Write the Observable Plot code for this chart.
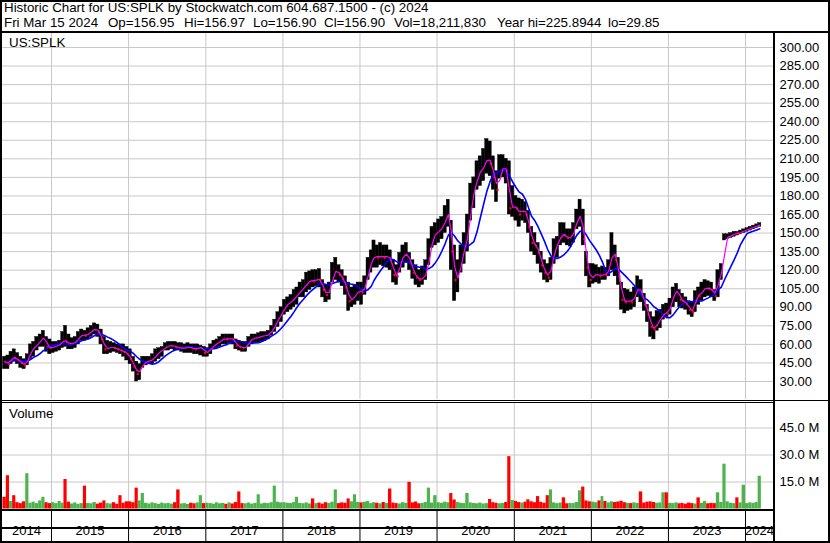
<!DOCTYPE html>
<html><head><meta charset="utf-8">
<script src="https://cdn.jsdelivr.net/npm/d3@7"></script>
<script src="https://cdn.jsdelivr.net/npm/@observablehq/plot@0.6"></script>
<style>
body{margin:0;background:#fff;}
#wrap{position:relative;width:830px;height:543px;overflow:hidden;font-family:"Liberation Sans",Arial,sans-serif;color:#000;background:#fff;}
.ln{position:absolute;background:#000;z-index:5;}
.txt{position:absolute;white-space:pre;font-size:13.33px;line-height:15px;z-index:6;}
.panel{position:absolute;left:0;}
#border{position:absolute;left:0;top:0;width:830px;height:543px;box-sizing:border-box;border:2px solid #000;z-index:7;}
</style></head><body>
<div id="wrap">
  <div class="txt" style="left:4px;top:0px">Historic Chart for US:SPLK by Stockwatch.com 604.687.1500 - (c) 2024</div>
  <div class="txt" style="left:4px;top:15px">Fri Mar 15 2024</div>
  <div class="txt" style="left:108px;top:15px">Op=156.95</div>
  <div class="txt" style="left:184px;top:15px">Hi=156.97</div>
  <div class="txt" style="left:253px;top:15px">Lo=156.90</div>
  <div class="txt" style="left:324px;top:15px">Cl=156.90</div>
  <div class="txt" style="left:394px;top:15px">Vol=18,211,830</div>
  <div class="txt" style="left:497px;top:15px">Year hi=225.8944</div>
  <div class="txt" style="left:608px;top:15px">lo=29.85</div>
  <div class="txt" style="left:9px;top:34.5px">US:SPLK</div>
  <div class="txt" style="left:9px;top:406px">Volume</div>
  <div id="price" class="panel" style="top:33px"></div>
  <div id="volume" class="panel" style="top:403px"></div>
  <div id="strip" class="panel" style="top:511px"></div>
  <div class="ln" style="left:0;top:31px;width:830px;height:2px"></div>
  <div class="ln" style="left:773px;top:33px;width:2px;height:510px"></div>
  <div class="ln" style="left:0;top:400px;width:830px;height:1px"></div>
  <div class="ln" style="left:0;top:402px;width:773px;height:1px"></div>
  <div class="ln" style="left:0;top:509px;width:773px;height:2px"></div>
  <div class="ln" style="left:0;top:527px;width:773px;height:2px"></div>
  <div id="border"></div>
</div>
<script>
// Half-month samples starting May 16, 2014 (slot 9 = 2nd half of May 2014), ending Mar 2024
const firstSlot = 9;
const low = [
  // 2014
  40, 40, 44, 46, 44, 41, 40, 43, 48, 50, 55, 58, 58, 54, 52,
  // 2015
  53, 54, 55, 57, 58, 56, 56, 57, 60, 63, 63, 64, 66, 68, 66, 60, 52, 52, 53, 54, 53, 52, 50, 47,
  // 2016
  44, 38, 30, 31, 41, 43, 44, 44, 46, 48, 50, 55, 55, 56, 55, 55, 54, 53, 53, 53, 52, 52, 51, 50,
  // 2017
  50, 52, 56, 57, 58, 60, 60, 61, 60, 56, 55, 54, 54, 58, 60, 61, 61, 62, 63, 64, 67, 70, 74, 78,
  // 2018
  84, 86, 88, 90, 92, 98, 98, 102, 104, 106, 107, 106, 98, 94, 96, 110, 112, 110, 107, 100, 87, 90, 92, 95,
  // 2019
  92, 100, 112, 118, 122, 122, 124, 123, 122, 120, 110, 108, 118, 122, 126, 120, 113, 108, 106, 108, 112, 124, 138, 140,
  // 2020
  142, 145, 150, 155, 120, 95, 102, 118, 125, 135, 160, 170, 185, 188, 192, 198, 196, 185, 175, 194, 195, 190, 165, 163,
  // 2021
  160, 155, 160, 158, 150, 135, 132, 125, 118, 112, 110, 112, 125, 130, 140, 142, 140, 139, 142, 153, 155, 140, 115, 106,
  // 2022
  109, 110, 109, 112, 112, 115, 120, 115, 108, 88, 85, 87, 88, 90, 98, 94, 87, 78, 66, 64, 71, 73, 80, 82,
  // 2023
  84, 90, 94, 90, 89, 88, 84, 82, 86, 92, 95, 98, 99, 98, 95, 98, 112, 144, 145, 146, 147, 148, 149, 150,
  // 2024
  151, 152, 153, 154, 155
];
const high = [
  50, 51, 54, 56, 53, 50, 48, 52, 60, 62, 66, 68, 71, 66, 64,
  62, 62, 63, 70, 75, 68, 65, 66, 70, 72, 71, 73, 75, 77, 76, 72, 66, 63, 62, 61, 60, 60, 60, 58,
  56, 50, 46, 44, 50, 50, 50, 52, 56, 57, 58, 61, 62, 62, 62, 61, 61, 60, 61, 60, 60, 60, 59, 58,
  57, 60, 63, 64, 66, 68, 68, 68, 68, 64, 63, 62, 62, 66, 68, 68, 69, 70, 70, 71, 75, 80, 86, 90,
  96, 98, 100, 104, 106, 110, 112, 118, 119, 120, 120, 121, 112, 108, 110, 126, 130, 124, 120, 115, 110, 106, 108, 110,
  110, 115, 130, 136, 144, 140, 142, 140, 140, 136, 128, 124, 134, 140, 142, 134, 128, 124, 120, 123, 128, 145, 155, 158,
  161, 163, 172, 177, 160, 140, 128, 140, 150, 165, 190, 195, 208, 212, 218, 226, 224, 212, 200, 213, 213, 210, 208, 188,
  180, 178, 177, 175, 168, 155, 150, 142, 135, 128, 125, 130, 145, 147, 158, 158, 153, 153, 158, 169, 177, 169, 135, 125,
  125, 124, 122, 123, 122, 128, 150, 140, 130, 110, 105, 104, 102, 106, 115, 112, 101, 92, 86, 82, 87, 88, 92, 93,
  97, 106, 109, 104, 101, 98, 95, 94, 103, 106, 110, 112, 111, 110, 104, 120, 125, 149, 149, 150, 151, 151, 152, 153,
  154, 155, 156, 157, 158
];
const close = [
  46, 44, 50, 49, 47, 45, 43, 49, 55, 58, 60, 64, 66, 58, 57,
  58, 59, 60, 64, 62, 60, 61, 62, 66, 68, 67, 69, 71, 73, 70, 64, 56, 57, 58, 57, 56, 55, 54, 52,
  48, 42, 36, 40, 45, 46, 47, 48, 52, 54, 56, 58, 59, 59, 58, 57, 57, 57, 58, 57, 56, 57, 58, 53,
  54, 57, 60, 61, 63, 65, 64, 65, 64, 59, 58, 57, 58, 63, 65, 65, 66, 67, 67, 68, 72, 76, 82, 85,
  91, 93, 95, 98, 100, 104, 106, 110, 112, 111, 113, 112, 104, 100, 104, 118, 120, 116, 113, 106, 95, 97, 100, 104,
  102, 108, 122, 128, 132, 130, 132, 130, 132, 128, 116, 115, 128, 132, 134, 126, 118, 114, 112, 114, 118, 134, 147, 150,
  152, 155, 162, 168, 135, 112, 115, 130, 140, 150, 178, 185, 198, 200, 205, 212, 206, 195, 185, 200, 204, 200, 170, 172,
  170, 165, 170, 165, 155, 142, 140, 134, 124, 118, 114, 125, 138, 142, 150, 148, 146, 146, 153, 162, 165, 145, 122, 112,
  116, 117, 115, 117, 116, 122, 138, 128, 115, 96, 94, 96, 94, 100, 108, 100, 92, 84, 74, 72, 79, 81, 86, 85,
  92, 102, 104, 96, 95, 93, 88, 86, 100, 99, 104, 106, 105, 104, 99, 116, 118, 146, 147, 148, 150, 149.5, 151, 152,
  153, 154, 155, 156, 156.9
];
// volume in millions of shares
const volume = [
  6.5, 18.5, 4.2, 7.4, 3.5, 3.0, 4.0, 19.6, 3.2, 3.8, 3.0, 4.5, 6.5, 3.5, 3.0,
  3.5, 3.0, 4.2, 3.2, 16.4, 3.8, 2.8, 3.4, 2.6, 3.0, 12.7, 3.1, 2.9, 3.6, 2.7, 3.3, 4.5, 3.0, 2.8, 3.5, 2.6, 7.4, 3.2, 4.0,
  4.0, 3.5, 11.6, 4.5, 8.6, 3.2, 2.8, 3.4, 3.0, 2.6, 3.3, 2.9, 3.1, 2.7, 3.5, 10.6, 2.8, 3.0, 2.5, 3.2, 2.9, 3.4, 7.4, 3.0,
  3.2, 3.0, 2.7, 3.5, 2.9, 3.1, 2.6, 3.4, 2.8, 3.6, 9.5, 3.0, 2.9, 3.3, 2.7, 3.1, 7.9, 2.8, 3.2, 3.0, 3.5, 12.7, 3.8, 3.4,
  3.5, 3.2, 3.0, 3.6, 6.5, 3.1, 2.9, 3.4, 2.8, 5.6, 3.0, 3.3, 2.7, 3.5, 3.1, 3.8, 10.6, 3.0, 3.4, 3.2, 5.6, 4.0, 7.9, 3.6,
  3.4, 3.8, 4.2, 3.0, 3.5, 3.2, 2.9, 3.6, 3.1, 11.1, 3.3, 3.0, 2.8, 3.5, 3.2, 14.8, 3.4, 3.9, 2.9, 3.1, 3.6, 11.6, 3.3, 7.4,
  3.5, 3.2, 3.8, 3.5, 8.6, 5.0, 3.6, 3.2, 3.0, 8.6, 3.4, 3.1, 2.9, 3.3, 2.8, 3.0, 5.3, 3.5, 3.2, 2.9, 3.1, 3.6, 29.1, 4.8,
  4.2, 3.6, 3.3, 3.8, 5.1, 4.0, 3.5, 6.9, 3.7, 3.2, 7.4, 10.6, 3.4, 3.0, 3.3, 6.2, 2.9, 3.1, 3.0, 3.6, 10.1, 12.2, 4.5, 4.0,
  3.8, 3.5, 4.5, 6.9, 4.2, 3.4, 4.0, 3.6, 3.9, 4.3, 3.5, 3.2, 3.0, 3.4, 3.1, 9.5, 3.3, 3.8, 4.0, 3.6, 3.2, 3.4, 9.0, 9.0,
  3.2, 3.0, 3.4, 2.9, 3.1, 2.7, 3.3, 3.0, 2.8, 6.2, 3.2, 4.2, 2.9, 3.1, 3.0, 9.0, 3.6, 24.9, 4.0, 3.2, 3.0, 6.2, 3.4, 13.2,
  3.0, 3.4, 3.2, 3.6, 18.2
];
const years = [2014, 2015, 2016, 2017, 2018, 2019, 2020, 2021, 2022, 2023, 2024];
const priceTicks = [30, 45, 60, 75, 90, 105, 120, 135, 150, 165, 180, 195, 210, 225, 240, 255, 270, 285, 300];
const volumeTicks = [15, 30, 45];

function slotDate(s) {
  const y = 2014 + Math.floor(s / 24), m = Math.floor((s % 24) / 2), d = (s % 2) ? 16 : 1;
  return new Date(Date.UTC(y, m, d));
}
const rows = close.map((c, i) => ({
  date: slotDate(firstSlot + i),
  next: slotDate(firstSlot + i + 1),
  lo: low[i], hi: high[i], close: c, vol: volume[i],
  dir: (i > 0 && c >= close[i - 1]) ? "up" : "down"
}));

const xDomain = [new Date(Date.UTC(2015, 0, 1)), new Date(Date.UTC(2024, 0, 1))];
const xRange = [51, 745];
const xOpts = {type: "utc", domain: xDomain, range: xRange, axis: null};
const yearStarts = years.slice(1).map(y => new Date(Date.UTC(y, 0, 1)));
const sx = d3.scaleUtc().domain(xDomain).range(xRange);
const leftDate = sx.invert(1), rightDate = sx.invert(773);
const yearLabels = years.map(y => {
  const s = Math.max(+new Date(Date.UTC(y, 0, 1)), +leftDate);
  const e = Math.min(+new Date(Date.UTC(y + 1, 0, 1)), +rightDate);
  return {mid: new Date((s + e) / 2), label: String(y)};
});
const style = {fontFamily: "'Liberation Sans', Arial, sans-serif", fontSize: "13px", color: "#000", background: "transparent", overflow: "visible"};
const grid = "#c8c8c8";

const price = Plot.plot({
  width: 830, height: 366, marginLeft: 0, marginRight: 56, marginTop: 0, marginBottom: 0,
  style,
  x: xOpts,
  y: {domain: [30, 300], range: [348, 14]},
  marks: [
    Plot.ruleY(priceTicks, {stroke: grid}),
    Plot.ruleX(yearStarts, {stroke: grid}),
    Plot.rect(rows, {x1: "date", x2: "next", y1: "lo", y2: "hi", fill: "#000", stroke: "#000", strokeWidth: 0.4}),
    Plot.dot(rows.filter(d => d.dir === "down"), {x: "date", y: "close", symbol: "square", r: 1.2, fill: "#ff0000", dx: 2.6}),
    Plot.lineY(rows, Plot.windowY({k: 8, anchor: "end"}, {x: "date", y: "close", stroke: "#0000ff", strokeWidth: 1.6, dx: 1.6})),
    Plot.lineY(rows, Plot.windowY({k: 2, anchor: "end"}, {x: "date", y: "close", stroke: "#ff00ff", strokeWidth: 1.2, dx: 1.6})),
    Plot.axisY(priceTicks, {anchor: "right", tickSize: 0, tickPadding: 5, tickFormat: d => d.toFixed(2), fontSize: 13, label: null})
  ]
});
document.getElementById("price").append(price);

const vol = Plot.plot({
  width: 830, height: 106, marginLeft: 0, marginRight: 56, marginTop: 0, marginBottom: 0,
  style,
  x: xOpts,
  y: {domain: [0, 45], range: [105.5, 24.5]},
  color: {domain: ["up", "down"], range: ["#4db34d", "#ff0000"]},
  marks: [
    Plot.ruleY(volumeTicks, {stroke: grid}),
    Plot.ruleX(yearStarts, {stroke: grid}),
    Plot.rectY(rows, {x1: "date", x2: "next", y: "vol", fill: "dir"}),
    Plot.axisY(volumeTicks, {anchor: "right", tickSize: 0, tickPadding: 5, tickFormat: d => d.toFixed(1) + " M", fontSize: 13, label: null})
  ]
});
document.getElementById("volume").append(vol);

const strip = Plot.plot({
  width: 830, height: 30, marginLeft: 0, marginRight: 56, marginTop: 0, marginBottom: 0,
  style,
  x: xOpts,
  marks: [
    Plot.ruleX(yearStarts, {stroke: "#000"}),
    Plot.text(yearLabels, {x: "mid", text: "label", frameAnchor: "bottom", dy: -6.5, fontSize: 13, fill: "#000"})
  ]
});
document.getElementById("strip").append(strip);
</script>
</body></html>
